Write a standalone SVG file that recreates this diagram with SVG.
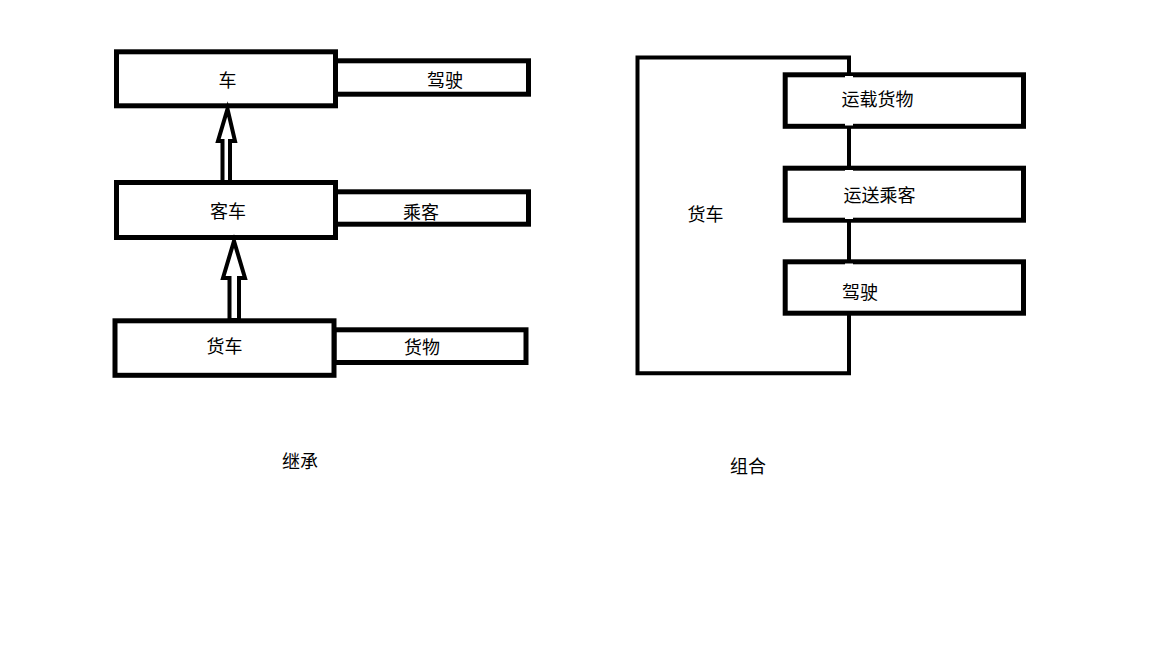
<svg xmlns="http://www.w3.org/2000/svg" width="1152" height="648" viewBox="0 0 1152 648">
<style>
.box{fill:#fff;stroke:#000;stroke-width:5}
.ln{fill:none;stroke:#000;stroke-width:4;stroke-linejoin:miter}
.arr{fill:#fff;stroke:#000;stroke-width:4;stroke-linejoin:miter}
text{font-family:"Noto Sans CJK SC","Microsoft YaHei",sans-serif;font-size:18px;fill:#000;text-anchor:middle}
.notch{fill:#fff}
</style>
<rect width="1152" height="648" fill="#fff"/>
<g id="inherit">
  <g id="car-drive"><rect class="box" x="335.5" y="60.8" width="193" height="33.4"/><text x="445" y="86.5">驾驶</text></g>
  <g id="car"><rect class="box" x="116.5" y="51.8" width="219" height="54"/><text x="227.5" y="87">车</text></g>
  <g id="bus-pass"><rect class="box" x="335.5" y="191.8" width="193" height="32.4"/><text x="421" y="218.5">乘客</text></g>
  <g id="bus"><rect class="box" x="116.5" y="182.5" width="219" height="55"/><text x="228" y="218">客车</text></g>
  <g id="truck-goods"><rect class="box" x="334" y="329.8" width="192" height="32.7"/><text x="422" y="353.5">货物</text></g>
  <g id="truck"><rect class="box" x="115" y="320.8" width="219" height="54.5"/><text x="224.5" y="353">货车</text></g>
  <g id="label-inherit"><text x="300" y="467.5">继承</text></g>
</g>
<g id="connectors">
  <polygon class="arr" points="222.5,182 222.5,141 218,141 227.5,109 235,141 230,141 230,182"/>
  <polygon class="arr" points="229.5,320 229.5,278 223,278 234,241 245,278 239,278 239,320"/>
  <path class="ln" d="M849,74 V57.5 H637.5 V373.2 H849 V314 M849,126 V168 M849,221 V261"/>
</g>
<g id="compose">
  <g id="big-truck"><text x="705.5" y="221">货车</text></g>
  <g id="load-goods"><rect class="box" x="785.2" y="74.8" width="238.3" height="51.5"/><text x="877.5" y="106">运载货物</text></g>
  <g id="carry-pass"><rect class="box" x="785.2" y="168.2" width="238.3" height="52"/><text x="879.5" y="202">运送乘客</text></g>
  <g id="drive"><rect class="box" x="785.2" y="261.8" width="238.3" height="51.4"/><text x="860" y="298.5">驾驶</text></g>
  <rect class="notch" x="845" y="76" width="8" height="2"/>
  <rect class="notch" x="845" y="123" width="8" height="2.5"/>
  <rect class="notch" x="845" y="170" width="8" height="2"/>
  <rect class="notch" x="845" y="217" width="8" height="2"/>
  <rect class="notch" x="845" y="263.5" width="8" height="2"/>
  <g id="label-compose"><text x="748" y="472.5">组合</text></g>
</g>
</svg>
